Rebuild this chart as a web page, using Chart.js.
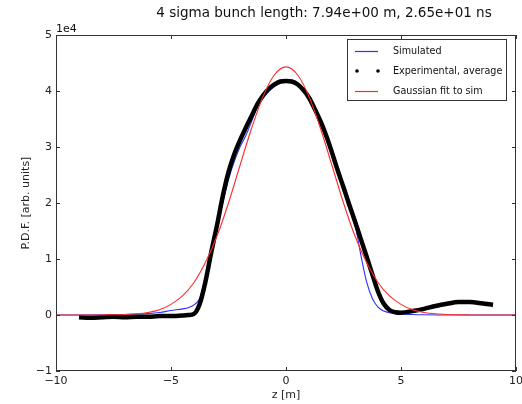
<!DOCTYPE html>
<html>
<head>
<meta charset="utf-8">
<script src="https://cdn.jsdelivr.net/npm/chart.js@4/dist/chart.umd.min.js"></script>
<style>
html,body{margin:0;padding:0;background:#fff;}
#wrap{width:522px;height:404px;position:relative;}
</style>
</head>
<body>
<div id="wrap"><canvas id="c" width="522" height="404"></canvas></div>
<script>
// ---- data (P.D.F. in arbitrary units) ----
const titleText = '4 sigma bunch length: 7.94e+00 m, 2.65e+01 ns';
const xTitle = 'z [m]';
const yTitle = 'P.D.F. [arb. units]';
const seriesNames = ['Simulated', 'Experimental, average', 'Gaussian fit to sim'];
const xTicks = [-10, -5, 0, 5, 10];
const yTicks = [-10000, 0, 10000, 20000, 30000, 40000, 50000];

const zSim = [-10,-9,-8,-7,-6.5,-6,-5.5,-5,-4.5,-4.25,-4,-3.75,-3.5,-3.25,-3,-2.75,-2.5,-2.25,-2,-1.75,-1.5,-1.25,-1,-0.75,-0.5,-0.25,0,
  0.25,0.5,0.75,1,1.25,1.5,1.75,2,2.25,2.5,2.75,3,3.25,3.5,3.75,4,4.25,4.5,5,5.5,6,7,8,9,10];
const simValues = [0,0,20,80,150,250,450,800,1100,1300,1800,3000,6800,11800,16000,20000,24200,27400,30000,32000,34500,37200,38700,39900,40800,41400,41600,
  41600,41200,40200,38700,36600,34200,31600,28600,25400,22400,19400,16200,10800,6000,3000,1400,700,400,200,100,50,0,0,0,0];

const zExp = [-9,-8.5,-8,-7.5,-7,-6.5,-6,-5.5,-5,-4.5,-4.25,-4,-3.75,-3.5,-3.25,-3,-2.75,-2.5,-2.25,-2,-1.75,-1.5,-1.25,-1,-0.75,-0.5,-0.25,0,
  0.25,0.5,0.75,1,1.25,1.5,1.75,2,2.25,2.5,2.75,3,3.25,3.5,3.75,4,4.25,4.5,4.75,5,5.5,6,6.5,7,7.5,8,8.5,9];
const expValues = [-400,-500,-400,-300,-400,-300,-300,-200,-200,-100,0,200,2000,6000,11200,16000,21200,25500,28700,31200,33400,35500,37600,39200,40400,41200,41700,41800,
  41700,41200,40200,38800,36800,34600,32000,29000,25800,22800,19700,16700,13600,10500,7300,4200,2000,900,500,400,700,1100,1600,2000,2300,2300,2100,1800];

const zFit = [-10,-9.5,-9,-8.5,-8,-7.5,-7,-6.5,-6,-5.5,-5,-4.5,-4,-3.5,-3,-2.5,-2,-1.5,-1,-0.5,0,
  0.5,1,1.5,2,2.5,3,3.5,4,4.5,5,5.5,6,6.5,7,7.5,8,8.5,9,9.5,10];
const fitValues = [0,0,1,4,13,35,90,210,460,950,1900,3400,5800,9400,14100,20000,26700,33300,39000,42900,44300,
  42900,39000,33300,26700,20000,14100,9400,5800,3400,1900,950,460,210,90,35,13,4,1,0,0];

const pts = (xs, ys) => xs.map((x, i) => ({x: x, y: ys[i]}));
const minus = s => s.replace('-', '\u2212');
const FONT = '"DejaVu Sans", "Liberation Sans", sans-serif';

const area = {left: 56, top: 35, right: 516, bottom: 371};

const decor = {
  id: 'decor',
  afterDraw(chart) {
    const ctx = chart.ctx, ca = chart.chartArea;
    const xs = chart.scales.x, ys = chart.scales.y;
    ctx.save();
    // frame
    ctx.strokeStyle = '#333';
    ctx.lineWidth = 1;
    ctx.strokeRect(Math.round(ca.left) + 0.5, Math.round(ca.top) + 0.5,
      Math.round(ca.right - ca.left) - 1, Math.round(ca.bottom - ca.top) - 1);
    // inward ticks
    ctx.beginPath();
    xTicks.forEach(v => {
      const p = Math.round(xs.getPixelForValue(v)) + 0.5;
      ctx.moveTo(p, ca.bottom); ctx.lineTo(p, ca.bottom - 4);
      ctx.moveTo(p, ca.top); ctx.lineTo(p, ca.top + 4);
    });
    yTicks.forEach(v => {
      const p = Math.round(ys.getPixelForValue(v)) + 0.5;
      ctx.moveTo(ca.left, p); ctx.lineTo(ca.left + 4, p);
      ctx.moveTo(ca.right, p); ctx.lineTo(ca.right - 4, p);
    });
    ctx.stroke();
    // title
    ctx.fillStyle = '#111';
    ctx.font = '13.5px ' + FONT;
    ctx.textAlign = 'center';
    ctx.textBaseline = 'middle';
    ctx.fillText(titleText, 324, 13);
    // offset text
    ctx.font = '11px ' + FONT;
    ctx.textAlign = 'left';
    ctx.textBaseline = 'alphabetic';
    ctx.fillText('1e4', ca.left, ca.top - 3);
    // legend
    const lx = 347, ly = 39, lw = 159, lh = 61;
    ctx.fillStyle = '#fff';
    ctx.fillRect(lx, ly, lw, lh);
    ctx.strokeStyle = '#333';
    ctx.strokeRect(lx + 0.5, ly + 0.5, lw, lh);
    const ds = chart.data.datasets;
    const rows = [51, 71, 91];
    ctx.font = '9.6px ' + FONT;
    ctx.textBaseline = 'middle';
    rows.forEach((ry, i) => {
      const d = ds[i];
      if (i === 1) {
        ctx.fillStyle = '#000';
        [357, 378].forEach(px => { ctx.beginPath(); ctx.arc(px, ry, 1.8, 0, Math.PI * 2); ctx.fill(); });
      } else {
        ctx.strokeStyle = d.borderColor;
        ctx.lineWidth = 1.2;
        ctx.beginPath(); ctx.moveTo(355, ry + 0.5); ctx.lineTo(378, ry + 0.5); ctx.stroke();
      }
      ctx.fillStyle = '#111';
      ctx.fillText(d.label, 393, ry);
    });
    ctx.restore();
  }
};

new Chart(document.getElementById('c'), {
  type: 'line',
  data: {
    datasets: [
      {label: seriesNames[0], data: pts(zSim, simValues), borderColor: '#3030ff', borderWidth: 1.1,
       pointRadius: 0, cubicInterpolationMode: 'monotone', order: 2},
      {label: seriesNames[1], data: pts(zExp, expValues), borderColor: '#000', borderWidth: 4.5,
       pointRadius: 0, cubicInterpolationMode: 'monotone', order: 1},
      {label: seriesNames[2], data: pts(zFit, fitValues), borderColor: '#ff2a2a', borderWidth: 1.1,
       pointRadius: 0, cubicInterpolationMode: 'monotone', order: 0}
    ]
  },
  options: {
    responsive: false,
    animation: false,
    events: [],
    layout: {padding: {left: 0, top: area.top, right: 522 - area.right, bottom: 0}},
    plugins: {legend: {display: false}, tooltip: {enabled: false}, title: {display: false}},
    scales: {
      x: {
        type: 'linear', min: -10, max: 10,
        afterBuildTicks: s => { s.ticks = xTicks.map(v => ({value: v})); },
        afterFit: s => { s.height = 404 - area.bottom; s.paddingLeft = 0; s.paddingRight = 0; },
        grid: {display: false, drawTicks: false},
        border: {display: false},
        ticks: {padding: 4, maxRotation: 0, autoSkip: false, color: '#222',
          font: {family: FONT, size: 11},
          callback: v => minus(String(v))},
        title: {display: true, text: xTitle, color: '#222', font: {family: FONT, size: 11},
          padding: {top: 0, bottom: 2}}
      },
      y: {
        type: 'linear', min: -10000, max: 50000,
        afterBuildTicks: s => { s.ticks = yTicks.map(v => ({value: v})); },
        afterFit: s => { s.width = area.left; s.paddingTop = 0; s.paddingBottom = 0; },
        grid: {display: false, drawTicks: false},
        border: {display: false},
        ticks: {padding: 4, autoSkip: false, color: '#222',
          font: {family: FONT, size: 11},
          callback: v => minus(String(v / 10000))},
        title: {display: true, text: yTitle, color: '#222', font: {family: FONT, size: 11},
          padding: {top: 20, bottom: 0}}
      }
    }
  },
  plugins: [decor]
});
</script>
</body>
</html>
